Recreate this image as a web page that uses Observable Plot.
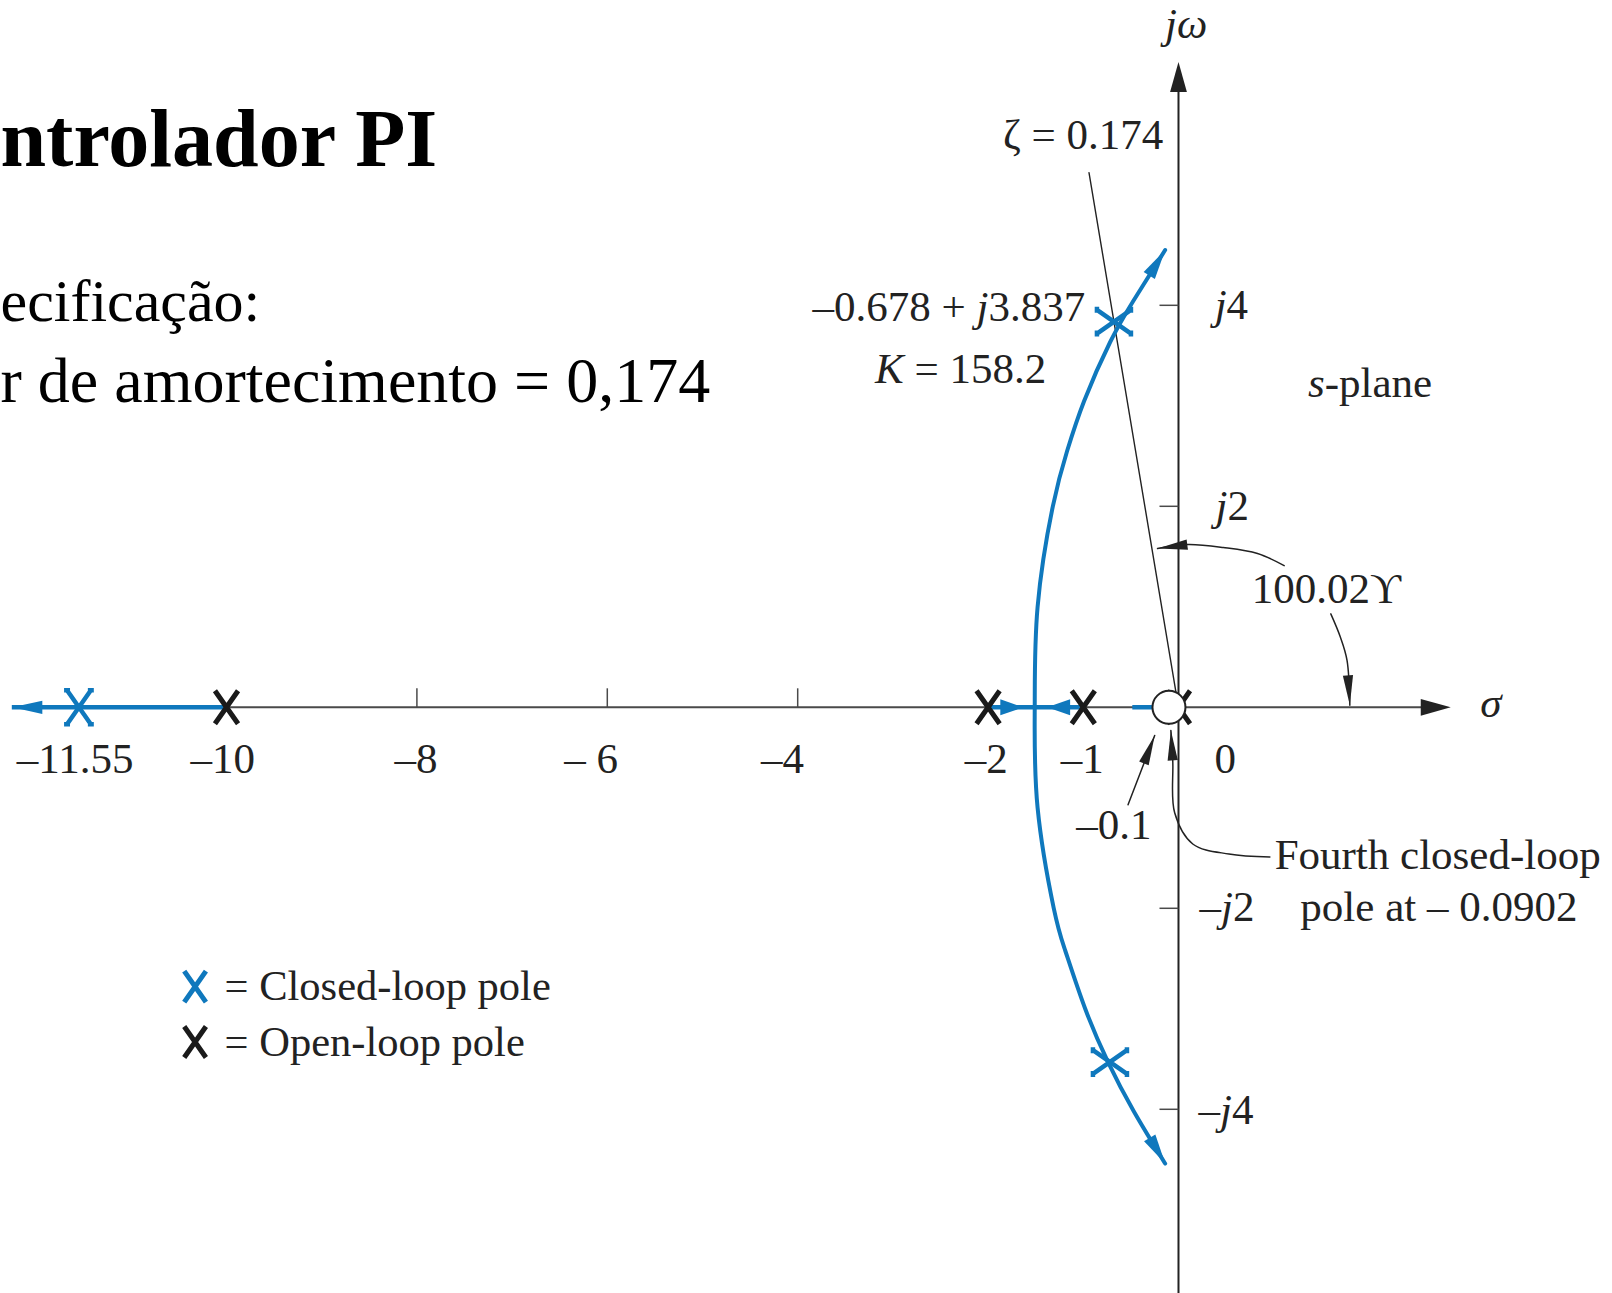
<!DOCTYPE html>
<html>
<head>
<meta charset="utf-8">
<script src="https://cdn.jsdelivr.net/npm/d3@7"></script>
<script src="https://cdn.jsdelivr.net/npm/@observablehq/plot@0.6"></script>
<style>
  html, body { margin: 0; padding: 0; background: #fff; }
  #chart svg { display: block; }
</style>
</head>
<body>
<div id="chart"></div>
<script>
// Visible window of the s-plane: σ (real part) across, jω (imaginary part) up
const sigmaDomain = [-12.374, 4.559];
const omegaDomain = [-5.833, 7.033];

// Poles and zero of G(s) with the PI compensator
const openLoopPoles = [-10, -2, -1, 0];
const compensatorZero = [-0.1];

// Closed-loop poles for K = 158.2 (the fourth one, at -0.0902, sits under the zero)
const closedLoopPoles = [
  {sigma: -11.55, omega: 0},
  {sigma: -0.678, omega: 3.837},
  {sigma: -0.72, omega: -3.53}
];
const fourthClosedLoopPole = -0.0902;

// Complex branches of the root locus, leaving the breakaway point near σ = -1.51
const upperBranch = [[-1.51, 0], [-1.48, 1.0], [-1.32, 2.0], [-1.17, 2.55], [-0.99, 3.05], [-0.72, 3.63], [-0.47, 4.05], [-0.14, 4.55]];
const lowerBranch = [[-1.51, 0], [-1.48, -1.0], [-1.31, -2.0], [-1.19, -2.42], [-0.98, -3.0], [-0.74, -3.53], [-0.47, -4.02], [-0.14, -4.54]];

// Real-axis parts of the locus: [start, end] in σ
const realAxisLocus = [[-12.25, -10], [-2, -1], [-0.48, -0.1]];
// Direction arrows on the real axis: from → tip (σ)
const realAxisArrows = [[-10, -12.25], [-2, -1.63], [-1, -1.38]];

// Damping-ratio line
const zeta = 0.174;
const zetaLineTop = 5.32;

// Axis ticks
const sigmaTicks = [-8, -6, -4];
const omegaTicks = [-4, -2, 2, 4];
const sigmaTickLabels = [
  {text: "–11.55", sigma: -11.59}, {text: "–10", sigma: -10.04}, {text: "–8", sigma: -8.01},
  {text: "– 6", sigma: -6.17}, {text: "–4", sigma: -4.16}, {text: "–2", sigma: -2.02},
  {text: "–1", sigma: -1.01}, {text: "0", sigma: 0.49}
];
const omegaTickLabels = [
  {text: "j4", sigma: 0.38, omega: 4.0}, {text: "j2", sigma: 0.39, omega: 2.0},
  {text: "–j2", sigma: 0.22, omega: -1.99}, {text: "–j4", sigma: 0.21, omega: -4.01}
];

// Annotation texts
const annotations = [
  {text: "jω", sigma: 0.08, omega: 6.80, anchor: "middle"},
  {text: "σ", sigma: 3.17, omega: 0.04, anchor: "start"},
  {text: `ζ = ${zeta}`, sigma: -0.16, omega: 5.69, anchor: "end"},
  {text: "–0.678 + j3.837", sigma: -0.98, omega: 3.98, anchor: "end"},
  {text: "K = 158.2", sigma: -1.39, omega: 3.36, anchor: "end"},
  {text: "s-plane", sigma: 1.36, omega: 3.22, anchor: "start"},
  {text: "100.02ϒ", sigma: 0.77, omega: 1.17, anchor: "start"},
  {text: "–0.1", sigma: -0.68, omega: -1.17, anchor: "middle"},
  {text: "Fourth closed-loop", sigma: 1.01, omega: -1.47, anchor: "start"},
  {text: `pole at – ${Math.abs(fourthClosedLoopPole)}`, sigma: 1.28, omega: -1.99, anchor: "start"}
];

// Annotation leader curves, ending at the arrow tip
const angleLeaderUp = [[1.11, 1.41], [0.83, 1.53], [0.47, 1.59], [0.10, 1.62], [-0.22, 1.58]];
const angleLeaderDown = [[1.60, 0.93], [1.70, 0.70], [1.77, 0.47], [1.80, 0.02]];
const zeroLeader = [[-0.53, -0.97], [-0.25, -0.28]];
const fourthPoleLeader = [[0.96, -1.49], [0.53, -1.46], [0.15, -1.36], [-0.04, -1.05], [-0.06, -0.54], [-0.08, -0.23]];

// Key
const legendItems = [
  {label: "= Closed-loop pole", kind: "closed", sigma: -10.33, omega: -2.78},
  {label: "= Open-loop pole", kind: "open", sigma: -10.33, omega: -3.33}
];

// Slide heading (left part runs off the slide)
const slideTexts = [
  {text: "ntrolador PI", omega: 5.65, size: 82, weight: "bold"},
  {text: "ecificação:", omega: 4.03, size: 60, weight: "normal"},
  {text: "r de amortecimento = 0,174", omega: 3.24, size: 64, weight: "normal"}
];

// ---------------------------------------------------------------------------
const WIDTH = 1612, HEIGHT = 1293;
const BLUE = "#0f78bd", INK = "#222", AXIS = "#4a4a4a";
const LABEL_SIZE = 43;
const kx = WIDTH / (sigmaDomain[1] - sigmaDomain[0]);
const ky = HEIGHT / (omegaDomain[1] - omegaDomain[0]);

// clockwise angle (degrees, 0 = pointing up) of the screen direction from → to
function screenAngle(from, to) {
  const dx = (to[0] - from[0]) * kx;
  const dy = -(to[1] - from[1]) * ky;
  return Math.atan2(dx, -dy) * 180 / Math.PI;
}
function headAt(from, to) {
  return {sigma: to[0], omega: to[1], angle: screenAngle(from, to)};
}

// Filled arrowhead: tip at the origin, pointing up, length 2r
function arrowHead(halfWidthRatio) {
  return {draw(context, size) {
    const len = 2 * Math.sqrt(size / Math.PI);
    const hw = len * halfWidthRatio;
    context.moveTo(0, 0);
    context.lineTo(-hw, len);
    context.lineTo(hw, len);
    context.closePath();
  }};
}
// Pole cross, taller than wide; optional short flat caps
function cross(capped) {
  return {draw(context, size) {
    const h = Math.sqrt(size / Math.PI), w = h * 0.7, c = w * 0.25;
    context.moveTo(-w, -h); context.lineTo(w, h);
    context.moveTo(w, -h); context.lineTo(-w, h);
    if (capped) for (const [x, y] of [[-w, -h], [w, -h], [-w, h], [w, h]]) {
      context.moveTo(x - c, y); context.lineTo(x + c, y);
    }
  }};
}
const tickUp = {draw(context, size) { const l = Math.sqrt(size / Math.PI); context.moveTo(0, 0); context.lineTo(0, -l); }};
const tickLeft = {draw(context, size) { const l = Math.sqrt(size / Math.PI); context.moveTo(0, 0); context.lineTo(-l, 0); }};

const pair = {x: d => d[0], y: d => d[1]};

// both complex branches as one smooth path through the breakaway point
const complexLocus = [...lowerBranch.slice().reverse(), ...upperBranch.slice(1)];
const branchHeads = [upperBranch, lowerBranch].map(b => headAt(b[b.length - 2], b[b.length - 1]));
const realHeadsLong = [headAt([realAxisArrows[0][0], 0], [realAxisArrows[0][1], 0])];
const realHeadsShort = realAxisArrows.slice(1).map(([a, b]) => headAt([a, 0], [b, 0]));
const leaders = [angleLeaderUp, angleLeaderDown, zeroLeader, fourthPoleLeader];
const leaderHeads = leaders.map(l => headAt(l[l.length - 2], l[l.length - 1]));
const axisHeads = [headAt([0, 0], [2.86, 0]), headAt([0, 0], [0, 6.42])];

const zetaSlope = zeta / Math.sqrt(1 - zeta * zeta);
const zetaLine = [[0, 0], [-zetaSlope * zetaLineTop, zetaLineTop]];

const textFont = "'Liberation Serif', 'Times New Roman', serif";
const labelText = (data, anchor, extra = {}) => Plot.text(data.filter(d => (d.anchor ?? anchor) === anchor), {
  x: "sigma", y: "omega", text: "text", textAnchor: anchor, fontSize: LABEL_SIZE, fill: INK, ...extra
});

const chart = Plot.plot({
  width: WIDTH,
  height: HEIGHT,
  margin: 0,
  x: {domain: sigmaDomain, axis: null},
  y: {domain: omegaDomain, axis: null},
  style: {fontFamily: textFont, background: "white"},
  marks: [
    // axes
    Plot.line([[-10, 0], [2.7, 0]], {...pair, stroke: AXIS, strokeWidth: 2}),
    Plot.line([[0, omegaDomain[0] - 1], [0, 6.3]], {...pair, stroke: INK, strokeWidth: 2}),
    Plot.dot(axisHeads, {x: "sigma", y: "omega", rotate: "angle", symbol: arrowHead(0.28), r: 15, fill: INK, stroke: "none"}),
    Plot.dot(sigmaTicks, {x: d => d, y: 0, symbol: tickUp, r: 19, stroke: AXIS, strokeWidth: 1.5, fill: "none"}),
    Plot.dot(omegaTicks, {x: 0, y: d => d, symbol: tickLeft, r: 19, stroke: AXIS, strokeWidth: 1.5, fill: "none"}),

    // damping-ratio line
    Plot.line(zetaLine, {...pair, stroke: INK, strokeWidth: 1.4}),

    // root locus
    Plot.ruleY(realAxisLocus, {x1: d => d[0], x2: d => d[1], y: 0, stroke: BLUE, strokeWidth: 4.5}),
    Plot.line(complexLocus, {...pair, curve: "natural", stroke: BLUE, strokeWidth: 4}),
    Plot.dot(branchHeads, {x: "sigma", y: "omega", rotate: "angle", symbol: arrowHead(0.22), r: 15, fill: BLUE, stroke: "none"}),
    Plot.dot(realHeadsLong, {x: "sigma", y: "omega", rotate: "angle", symbol: arrowHead(0.22), r: 15, fill: BLUE, stroke: "none"}),
    Plot.dot(realHeadsShort, {x: "sigma", y: "omega", rotate: "angle", symbol: arrowHead(0.35), r: 11.5, fill: BLUE, stroke: "none"}),

    // open-loop poles, closed-loop poles, compensator zero
    Plot.dot(openLoopPoles, {x: d => d, y: 0, symbol: cross(false), r: 16.5, stroke: "#1a1a1a", strokeWidth: 5, fill: "none"}),
    Plot.dot(closedLoopPoles, {x: "sigma", y: "omega", rotate: d => d.omega === 0 ? 0 : 90, symbol: cross(true), r: 17, stroke: BLUE, strokeWidth: 4.5, fill: "none"}),
    Plot.dot(compensatorZero, {x: d => d, y: 0, r: 16.5, fill: "white", stroke: INK, strokeWidth: 2}),

    // leader curves
    ...leaders.map(l => Plot.line(l, {...pair, curve: "catmull-rom", stroke: INK, strokeWidth: 1.5})),
    Plot.dot(leaderHeads, {x: "sigma", y: "omega", rotate: "angle", symbol: arrowHead(0.17), r: 15, fill: INK, stroke: "none"}),

    // labels
    labelText(sigmaTickLabels.map(d => ({...d, omega: -0.52})), "middle"),
    labelText(omegaTickLabels, "start"),
    ...["start", "middle", "end"].map(a => labelText(annotations, a)),

    // key
    Plot.dot(legendItems, {x: "sigma", y: "omega", symbol: cross(false), r: 15.5, stroke: d => d.kind === "closed" ? BLUE : "#1a1a1a", strokeWidth: 5, fill: "none"}),
    Plot.text(legendItems, {x: d => d.sigma + 0.31, y: "omega", text: "label", textAnchor: "start", fontSize: 42.5, fill: INK}),

    // slide heading, flush with the left edge
    ...slideTexts.map(d => Plot.text([d], {x: sigmaDomain[0], y: "omega", text: "text", textAnchor: "start", fontSize: d.size, fontWeight: d.weight, fill: "#000"}))
  ]
});

// italic math symbols (j, K, σ, ω and the s of s-plane)
const SVGNS = "http://www.w3.org/2000/svg";
chart.querySelectorAll("text").forEach(t => {
  if (t.querySelector("tspan")) return;
  const s = t.textContent;
  if (!/[jKσω]|^s-/.test(s)) return;
  const parts = s.split(/(j|K|σ|ω|^s(?=-))/).filter(p => p !== "");
  t.textContent = "";
  for (const p of parts) {
    const ts = document.createElementNS(SVGNS, "tspan");
    ts.textContent = p;
    if (/^(j|K|σ|ω|s)$/.test(p)) ts.setAttribute("font-style", "italic");
    t.appendChild(ts);
  }
});

document.getElementById("chart").appendChild(chart);
</script>
</body>
</html>
